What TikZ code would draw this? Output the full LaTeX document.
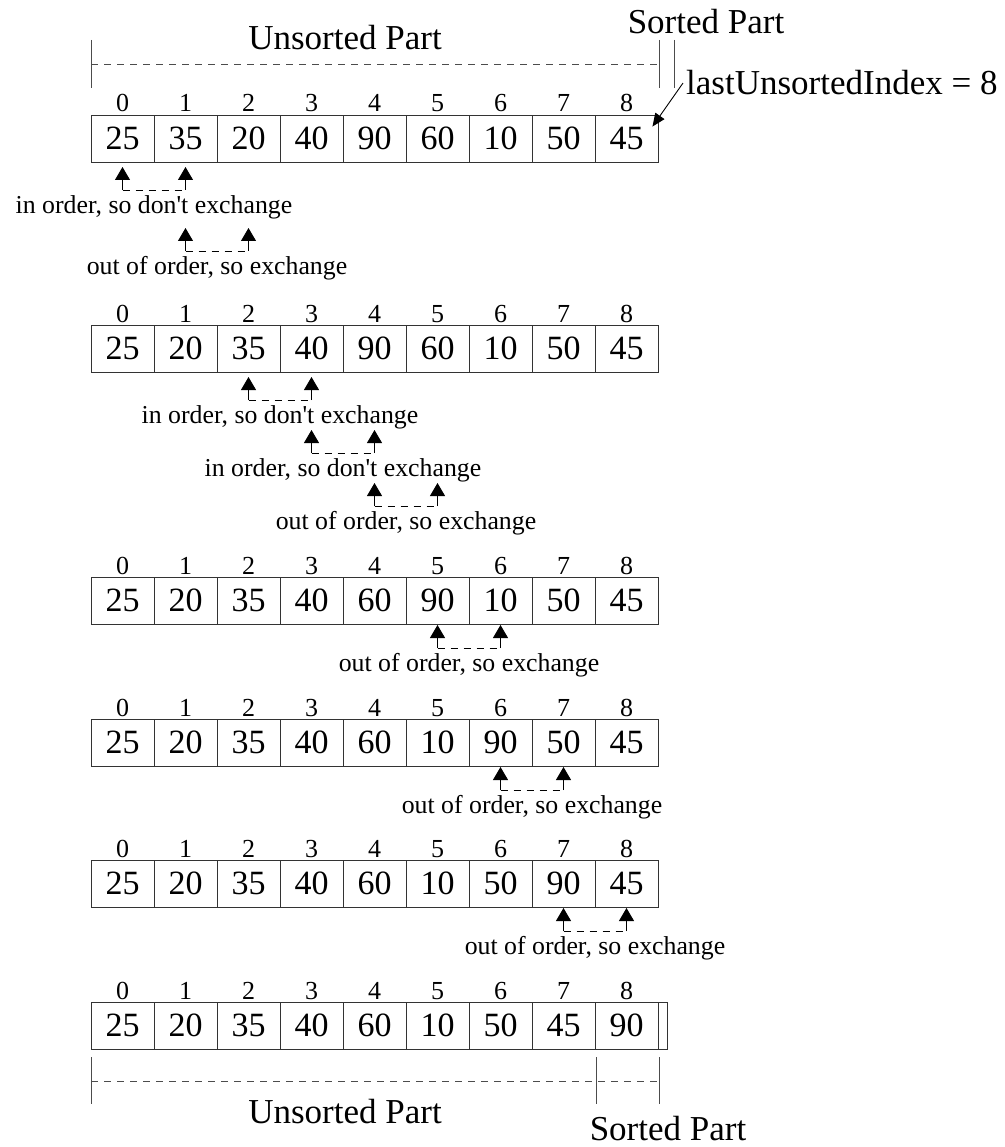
\documentclass[tikz,border=0pt]{standalone}
\usepackage{fontspec}
\setmainfont{Liberation Serif}
\usetikzlibrary{arrows.meta}
\newcommand\drawarr[3]{%
  \foreach \v [count=\i from 0] in {#3} {
    \node[cellbox] (#1c\i) at ({91+63*\i+31.5}, {#2+23.5}) {\v};
    \node[idx] (#1i\i) at ({91+63*\i+31.5}, {#2-3}) {\i};
  }%
}
\newcommand\cmpr[5]{% name, idx a, idx b, label y, text
  \coordinate (#1a) at ({91+63*#2+31.5}, {#4-17});
  \coordinate (#1b) at ({91+63*#3+31.5}, {#4-17});
  \coordinate (#1ta) at ({91+63*#2+31.5}, {#4-40});
  \coordinate (#1tb) at ({91+63*#3+31.5}, {#4-40});
  \draw[cmparrow] (#1a) -- (#1ta);
  \draw[cmparrow] (#1b) -- (#1tb);
  \draw[dashline] (#1a) -- (#1b);
  \node[lbl] (#1l) at ({91+63*(#2+#3)/2+31.5}, #4) {#5};
}
\begin{document}
\begin{tikzpicture}[x=1pt,y=-1pt,
  cellbox/.style={draw=black!80, line width=0.9pt, minimum width=63pt, minimum height=47pt, inner sep=0pt, font=\fontsize{34}{36}\selectfont},
  idx/.style={anchor=base, inner sep=0pt, font=\fontsize{26}{30}\selectfont},
  lbl/.style={inner sep=0pt, font=\fontsize{25.8}{30}\selectfont},
  big/.style={inner sep=0pt, anchor=base, font=\fontsize{35}{40}\selectfont},
  tickline/.style={draw=black!70, line width=0.9pt},
  dashline/.style={line width=0.8pt, dash pattern=on 7pt off 6pt},
  cmparrow/.style={line width=0.9pt, -{Triangle[length=13pt,width=15pt]}},
]
\useasboundingbox (0,0) rectangle (1004,1147);

% top bracket
\node[big] (tunsorted) at (345,50) {Unsorted Part};
\node[big] (tsorted) at (706,34) {Sorted Part};
\coordinate (tA1) at (91,40); \coordinate (tA2) at (91,88);
\coordinate (tB1) at (659,40); \coordinate (tB2) at (659,88);
\coordinate (tC1) at (674,40); \coordinate (tC2) at (674,88);
\coordinate (tD1) at (91,64); \coordinate (tD2) at (659,64);
\draw[tickline] (tA1) -- (tA2);
\draw[tickline] (tB1) -- (tB2);
\draw[tickline] (tC1) -- (tC2);
\draw[dashline, black!70] (tD1) -- (tD2);

% arrays
\drawarr{a}{115}{25,35,20,40,90,60,10,50,45}
\drawarr{b}{325}{25,20,35,40,90,60,10,50,45}
\drawarr{c}{577}{25,20,35,40,60,90,10,50,45}
\drawarr{d}{719}{25,20,35,40,60,10,90,50,45}
\drawarr{e}{860}{25,20,35,40,60,10,50,90,45}
\drawarr{f}{1002}{25,20,35,40,60,10,50,45,90}

% last unsorted index
\node[big, anchor=base west] (lui) at (686,95) {lastUnsortedIndex = 8};
\draw[line width=0.9pt, -{Triangle[length=13pt,width=11pt]}] ([xshift=-3pt]lui.west) -- ([xshift=-6pt,yshift=-12pt]ac8.north east);

% comparisons
\cmpr{k1}{0}{1}{207}{in order, so don\textquotesingle t exchange}
\cmpr{k2}{1}{2}{268}{out of order, so exchange}
\cmpr{k3}{2}{3}{417}{in order, so don\textquotesingle t exchange}
\cmpr{k4}{3}{4}{470}{in order, so don\textquotesingle t exchange}
\cmpr{k5}{4}{5}{523}{out of order, so exchange}
\cmpr{k6}{5}{6}{665}{out of order, so exchange}
\cmpr{k7}{6}{7}{807}{out of order, so exchange}
\cmpr{k8}{7}{8}{948}{out of order, so exchange}

% sorted boundary on last array
\node[draw=black!80, line width=0.9pt, minimum width=9pt, minimum height=47pt, inner sep=0pt, anchor=west] (fend) at (fc8.east) {};

% bottom bracket
\coordinate (bA1) at (91,1057); \coordinate (bA2) at (91,1104);
\coordinate (bB1) at (596,1057); \coordinate (bB2) at (596,1104);
\coordinate (bC1) at (659,1057); \coordinate (bC2) at (659,1104);
\coordinate (bD1) at (91,1081); \coordinate (bD2) at (659,1081);
\draw[tickline] (bA1) -- (bA2);
\draw[tickline] (bB1) -- (bB2);
\draw[tickline] (bC1) -- (bC2);
\draw[dashline, black!70] (bD1) -- (bD2);
\node[big] (bunsorted) at (345,1123) {Unsorted Part};
\node[big] (bsorted) at (668,1140) {Sorted Part};
\end{tikzpicture}
\end{document}
